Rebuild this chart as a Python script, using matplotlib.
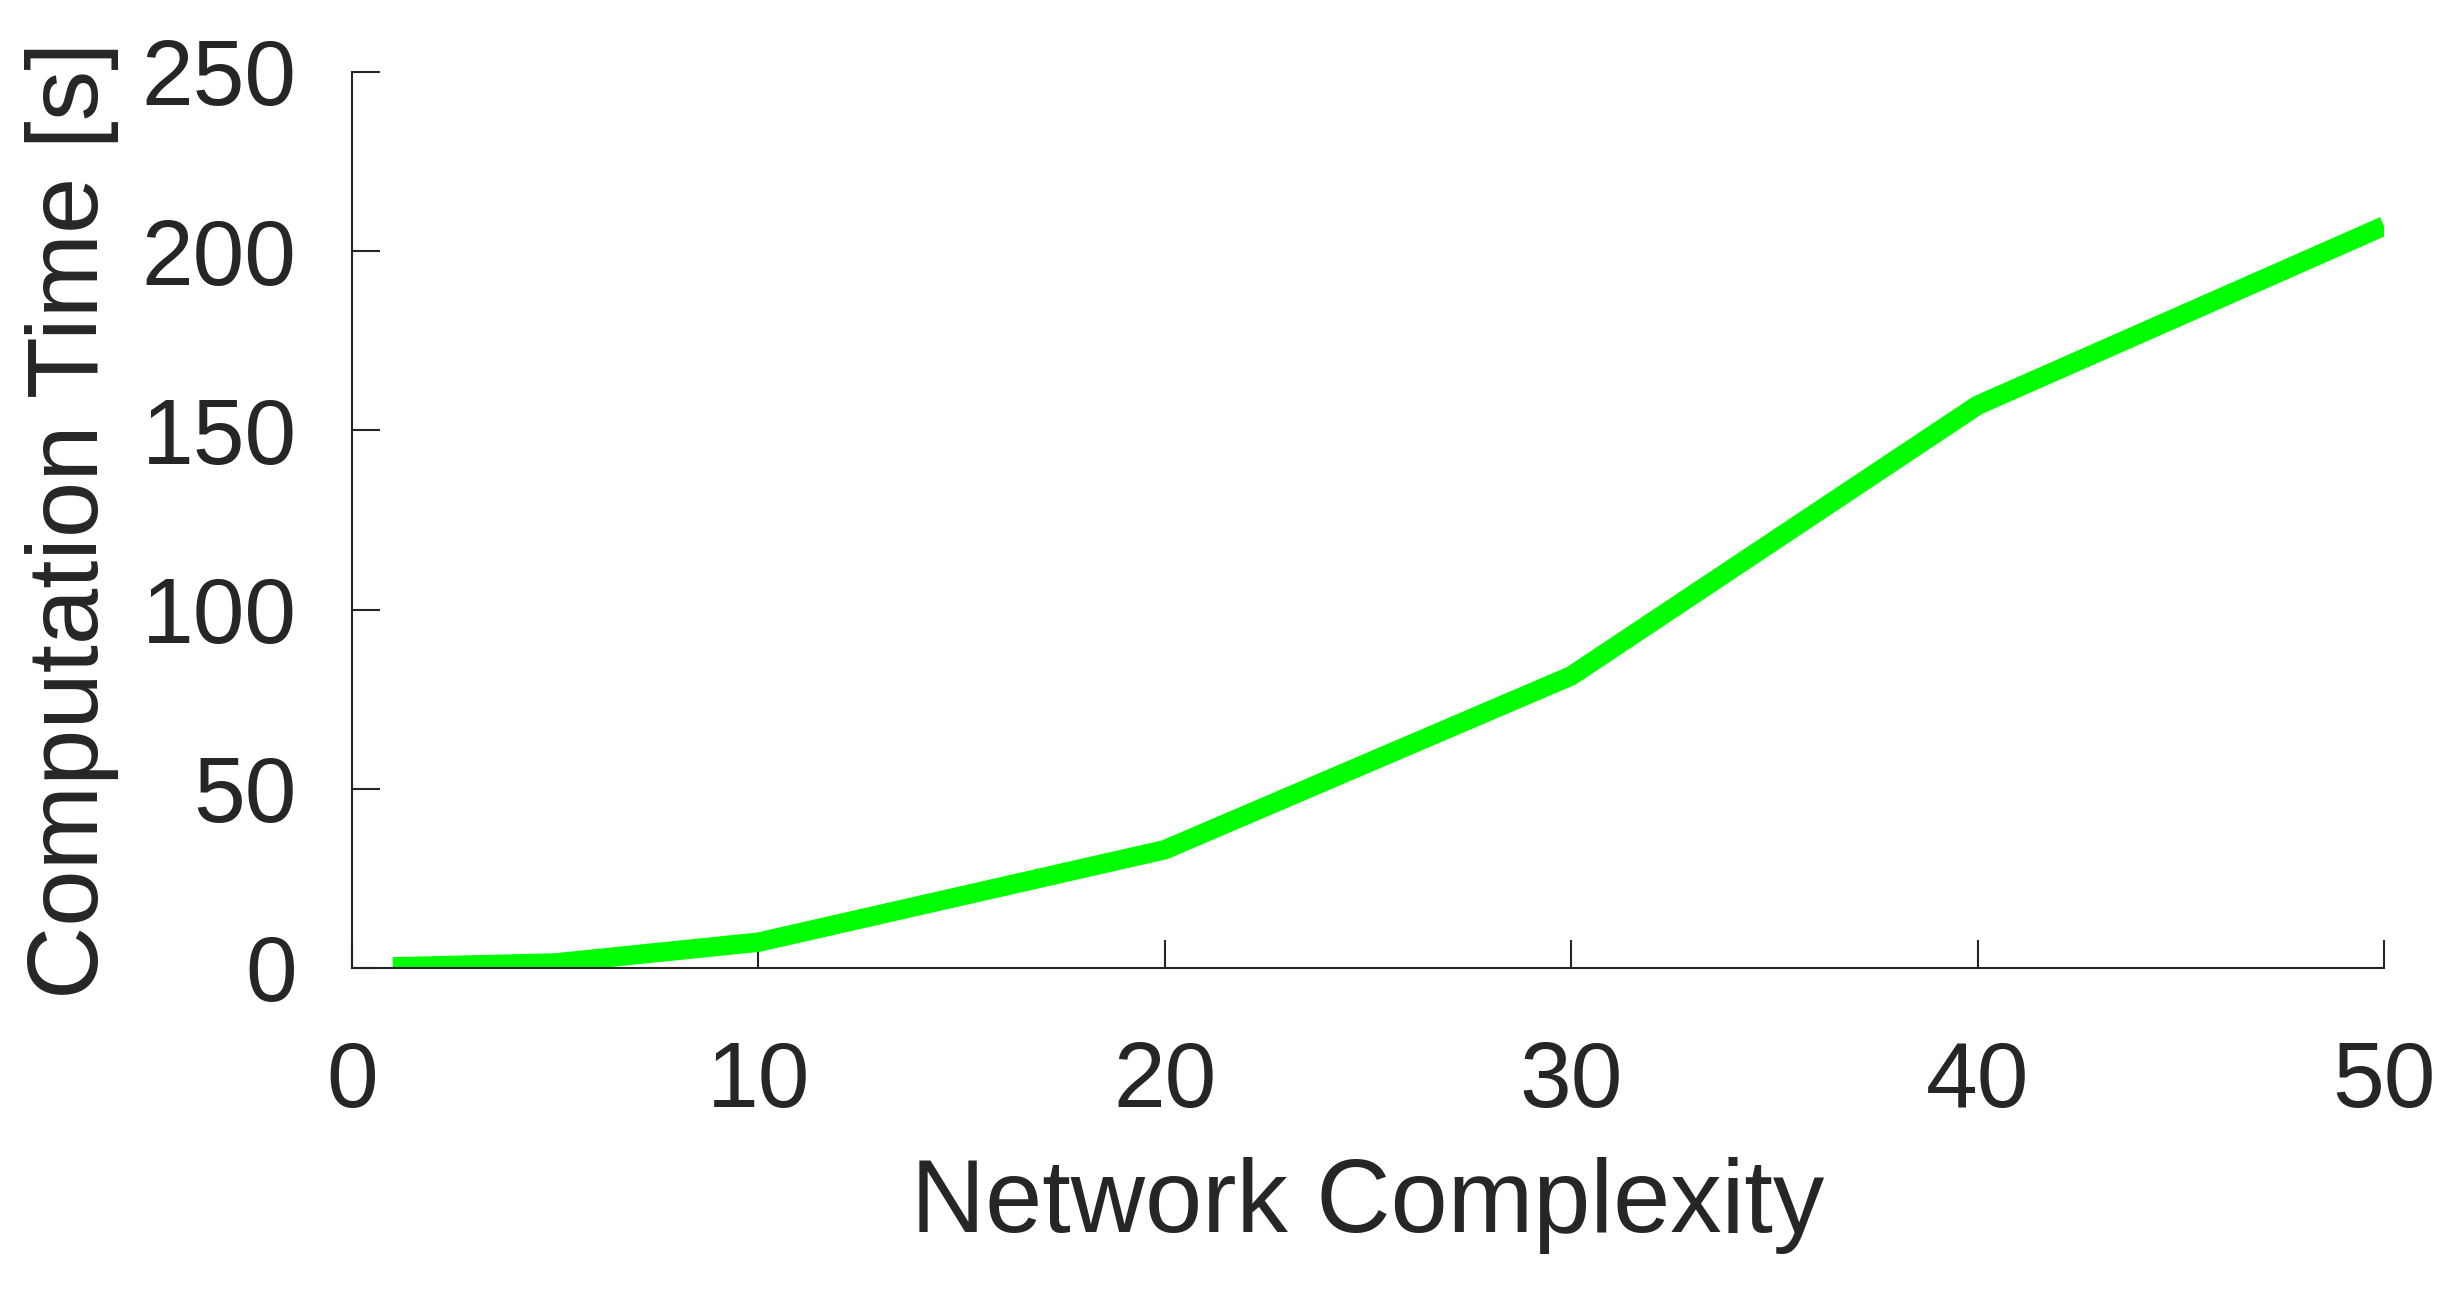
import matplotlib
matplotlib.use("Agg")
import matplotlib.pyplot as plt

# Computation time vs. network complexity
complexity = [1, 5, 10, 20, 30, 40, 50]
comp_time = [0.3, 1.4, 7.2, 33.0, 81.5, 157.0, 207.0]

x_ticks = [0, 10, 20, 30, 40, 50]
y_ticks = [0, 50, 100, 150, 200, 250]

plt.rcParams["font.family"] = ["Liberation Sans", "DejaVu Sans"]

fig = plt.figure(figsize=(24.64, 12.92), dpi=100)
ax = fig.add_axes([0.1429, 0.2508, 0.8246, 0.6935])

ax.plot(complexity, comp_time, color="#00ff00", linewidth=14,
        solid_capstyle="butt", solid_joinstyle="miter")

ax.set_xlim(0, 50)
ax.set_ylim(0, 250)
ax.set_xticks(x_ticks)
ax.set_yticks(y_ticks)

for side in ["top", "right"]:
    ax.spines[side].set_visible(False)
for side in ["left", "bottom"]:
    ax.spines[side].set_color("#262626")
    ax.spines[side].set_linewidth(1.5)

ax.tick_params(direction="in", length=20, width=1.5, colors="#262626",
               labelsize=67)
ax.tick_params(axis="x", pad=52)
ax.tick_params(axis="y", pad=40)

ax.set_xlabel("Network Complexity", fontsize=74, color="#262626", labelpad=22)
ax.set_ylabel("Computation Time [s]", fontsize=73, color="#262626", labelpad=16)

fig.savefig("out.png", dpi=100)
